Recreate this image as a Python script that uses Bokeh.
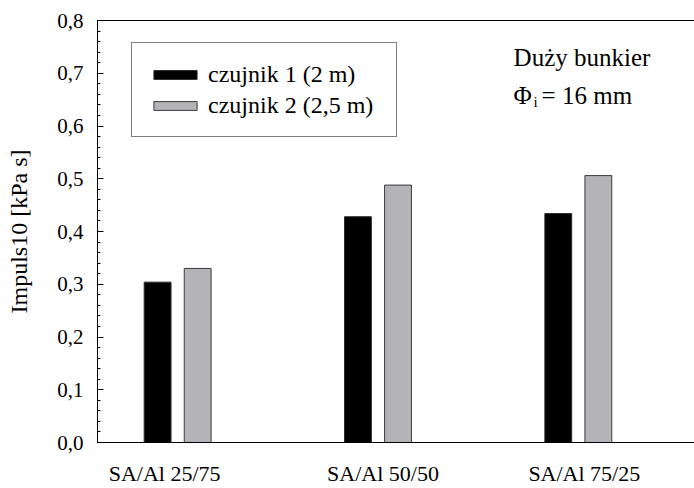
from bokeh.plotting import figure
from bokeh.models import (Range1d, FixedTicker, LinearAxis, Legend, LegendItem, Label)
from bokeh.embed import file_html
from bokeh.resources import INLINE

# ---- data ----
categories = ["SA/Al 25/75", "SA/Al 50/50", "SA/Al 75/25"]
series_names = ["czujnik 1 (2 m)", "czujnik 2 (2,5 m)"]
czujnik1 = [0.304, 0.428, 0.434]
czujnik2 = [0.330, 0.488, 0.506]
y_ticks = [0.0, 0.1, 0.2, 0.3, 0.4, 0.5, 0.6, 0.7, 0.8]
y_tick_labels = ["0,0", "0,1", "0,2", "0,3", "0,4", "0,5", "0,6", "0,7", "0,8"]
y_label = "Impuls10 [kPa s]"
note_line1 = "Duży bunkier"
note_phi = "Φ"
note_sub = "i"
note_rest = "= 16 mm"

FONT = "'Liberation Serif', 'Times New Roman', serif"
positions = [i + 1 for i in range(len(categories))]

X0, X1 = 0.6, 3.58
FRAME_W = 694 - 97
px_per_unit = FRAME_W / (X1 - X0)

p = figure(width=694, height=488, output_backend="svg", toolbar_location=None,
           x_range=Range1d(X0, X1), y_range=Range1d(0, 0.8),
           min_border_left=97, min_border_right=0, min_border_top=20,
           min_border_bottom=46, x_axis_location=None, y_axis_location=None)
p.outline_line_color = None
p.xgrid.visible = False
p.ygrid.visible = False
p.background_fill_color = "white"
p.border_fill_color = "white"

# bars
x1 = [x - 0.1 for x in positions]
x2 = [x + 0.1 for x in positions]
r1 = p.vbar(x=x1, top=czujnik1, width=0.134, bottom=0,
            fill_color="#000000", line_color="#2a2a2a", line_width=1)
r2 = p.vbar(x=x2, top=czujnik2, width=0.134, bottom=0,
            fill_color="#b4b4b8", line_color="#3c3c3c", line_width=1)

# left axis
minor = [round(i * 0.02, 2) for i in range(41)]
left = LinearAxis(ticker=FixedTicker(ticks=y_ticks, minor_ticks=minor))
left.major_label_overrides = {t: l for t, l in zip(y_ticks, y_tick_labels)}
left.axis_label = y_label
left.axis_label_text_font = FONT
left.axis_label_text_font_style = "normal"
left.axis_label_text_font_size = "24px"
left.axis_label_text_color = "black"
left.axis_label_standoff = 22
left.major_label_text_font = FONT
left.major_label_text_font_size = "21px"
left.major_label_text_color = "black"
left.major_label_standoff = 14
left.major_tick_in = 6
left.major_tick_out = 0
left.minor_tick_in = 3
left.minor_tick_out = 0
left.axis_line_color = "black"
left.major_tick_line_color = "black"
left.minor_tick_line_color = "black"
p.add_layout(left, "left")

# bottom axis: line + category labels (labels sit slightly off the group centres)
label_shift_px = [-13, 5, 6]
cat_ticks = [pos + s / px_per_unit for pos, s in zip(positions, label_shift_px)]
bottom = LinearAxis(ticker=FixedTicker(ticks=cat_ticks, minor_ticks=[]))
bottom.major_label_overrides = {t: c for t, c in zip(cat_ticks, categories)}
bottom.major_label_text_font = FONT
bottom.major_label_text_font_size = "22px"
bottom.major_label_text_color = "black"
bottom.major_label_standoff = 18
bottom.major_tick_line_color = None
bottom.minor_tick_line_color = None
bottom.major_tick_in = 0
bottom.major_tick_out = 0
bottom.axis_line_color = "black"
p.add_layout(bottom, "below")

# top axis (line only)
top = LinearAxis(ticker=FixedTicker(ticks=[], minor_ticks=[]))
top.major_tick_line_color = None
top.minor_tick_line_color = None
top.major_tick_in = 0
top.major_tick_out = 0
top.axis_line_color = "black"
top.major_label_standoff = 0
p.add_layout(top, "above")

# annotation
ax = 2.677
p.add_layout(Label(x=ax, y=0.730, text=note_line1, text_font=FONT,
                   text_font_size="25px", text_baseline="alphabetic", text_color="black"))
p.add_layout(Label(x=ax, y=0.658, text=note_phi, text_font=FONT,
                   text_font_size="25px", text_baseline="alphabetic", text_color="black"))
p.add_layout(Label(x=ax, y=0.645, x_offset=20, text=note_sub, text_font=FONT,
                   text_font_size="15px", text_baseline="alphabetic", text_color="black"))
p.add_layout(Label(x=ax, y=0.658, x_offset=28, text=note_rest, text_font=FONT,
                   text_font_size="25px", text_baseline="alphabetic", text_color="black"))

# legend
legend = Legend(items=[LegendItem(label=series_names[0], renderers=[r1]),
                       LegendItem(label=series_names[1], renderers=[r2])],
                location=(34, 305))
legend.label_text_font = FONT
legend.label_text_font_size = "24px"
legend.label_text_color = "black"
legend.glyph_width = 54
legend.glyph_height = 11
legend.label_height = 30
legend.label_width = 172
legend.label_standoff = 6
legend.spacing = 1
legend.padding = 16
legend.margin = 0
legend.border_line_color = "black"
legend.border_line_width = 1
legend.background_fill_color = "white"
legend.background_fill_alpha = 1
p.add_layout(legend)

open("out.html", "w").write(file_html(p, INLINE))
